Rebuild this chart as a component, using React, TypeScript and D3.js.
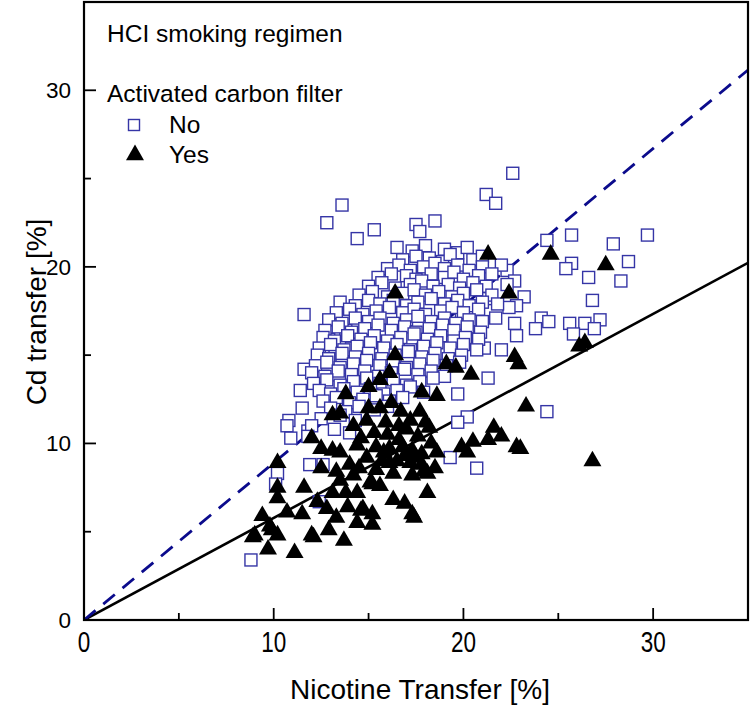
import React from 'react';
import * as d3 from 'd3';

// axis ticks
const majorTicks = [0, 10, 20, 30];
const minorTicks = [5, 15, 25];

// slopes of the two reference lines (through origin)
const slopeNoFilter = 0.89;
const slopeWithFilter = 0.578;

// Activated carbon filter: No  [nicotine %, Cd %]
const noFilter: [number, number][] = [
  [22.6, 25.3], [21.2, 24.1], [21.7, 23.6], [13.6, 23.5], [12.8, 22.5], [14.4, 21.6], [15.3, 22.1],
  [17.5, 22.4], [18.5, 22.6], [17.7, 22.0], [11.6, 17.3],
  [25.7, 21.8], [29.7, 21.8], [24.4, 21.5], [27.9, 21.3], [25.7, 20.2], [25.4, 19.9], [28.7, 20.3],
  [26.6, 19.4], [28.3, 19.2], [22.3, 19.8], [22.7, 19.2], [23.2, 18.3], [21.3, 18.2], [26.8, 18.1],
  [22.8, 17.8], [22.4, 17.7], [19.9, 17.3], [24.1, 17.1], [24.5, 16.9], [23.8, 16.5], [22.7, 16.8],
  [22.8, 16.1], [25.6, 16.8], [26.4, 16.8], [27.2, 17.0], [26.9, 16.5], [25.8, 16.2], [22.0, 15.3],
  [21.1, 15.4], [21.3, 13.7], [19.7, 12.8], [24.4, 11.8], [20.2, 11.5], [19.7, 11.2], [20.7, 8.6],
  [19.3, 9.2],
  [10.2, 8.3], [10.1, 7.7], [11.9, 8.8], [12.6, 8.8], [12.4, 6.7], [8.8, 3.4], [11.5, 12.0],
  [10.8, 11.3], [10.7, 11.0], [10.9, 10.3], [11.8, 10.7], [11.6, 14.2], [11.4, 13.0],
  [12.6, 15.1], [12.9, 15.9], [12.6, 13.8], [13.0, 13.2], [13.8, 16.4], [14.1, 15.4], [13.6, 14.8],
  [16.5, 21.1], [17.3, 20.9], [18.0, 21.2], [19.0, 21.0], [19.7, 20.8], [20.2, 21.1],
  [16.8, 20.4], [17.5, 20.6], [18.2, 20.5], [18.9, 20.3], [19.3, 20.7], [20.5, 20.4], [21.0, 20.6],
  [16.0, 19.9], [16.6, 20.1], [17.2, 19.8], [17.9, 20.0], [18.5, 20.2], [19.0, 19.9], [19.7, 20.1],
  [20.3, 19.8], [21.0, 20.0], [22.0, 20.1],
  [15.5, 19.4], [16.2, 19.6], [17.0, 19.5], [17.5, 19.3], [18.3, 19.6], [19.0, 19.4], [19.5, 19.7],
  [20.0, 19.3], [20.8, 19.5], [21.5, 19.6],
  [15.0, 18.9], [15.7, 19.1], [16.4, 18.8], [17.2, 19.0], [17.8, 19.2], [18.4, 18.9], [19.2, 19.0],
  [19.8, 18.8], [20.5, 19.1], [21.2, 18.9], [22.3, 19.0],
  [14.5, 18.4], [15.2, 18.6], [16.0, 18.3], [16.8, 18.5], [17.4, 18.7], [18.0, 18.4], [18.7, 18.6],
  [19.4, 18.3], [20.0, 18.5], [20.7, 18.7], [21.5, 18.4],
  [13.5, 18.0], [14.3, 17.8], [15.0, 18.1], [15.6, 17.9], [16.3, 18.1], [17.0, 17.8], [17.6, 18.0],
  [18.3, 18.2], [19.0, 17.9], [19.7, 18.1], [20.3, 17.8], [21.0, 18.0], [21.8, 17.9],
  [13.3, 17.4], [14.0, 17.6], [14.7, 17.3], [15.4, 17.5], [16.1, 17.7], [16.8, 17.4], [17.4, 17.6],
  [18.0, 17.3], [18.8, 17.5], [19.4, 17.7], [20.0, 17.4], [20.8, 17.6],
  [12.9, 17.0], [13.6, 16.8], [14.3, 17.1], [15.0, 16.9], [15.6, 17.1], [16.3, 16.8], [17.0, 17.0],
  [17.6, 17.2], [18.3, 16.9], [19.0, 17.1], [19.6, 16.8], [20.3, 17.0], [21.0, 16.9], [21.7, 17.1],
  [12.7, 16.4], [13.4, 16.6], [14.1, 16.3], [14.8, 16.5], [15.5, 16.7], [16.2, 16.4], [16.9, 16.6],
  [17.5, 16.3], [18.2, 16.5], [18.9, 16.7], [19.5, 16.4], [20.2, 16.6], [20.9, 16.3],
  [12.6, 16.0], [13.2, 15.8], [13.9, 16.1], [14.6, 15.9], [15.3, 16.1], [16.0, 15.8], [16.7, 16.0],
  [17.4, 16.2], [18.1, 15.9], [18.8, 16.1], [19.5, 15.8], [20.1, 16.0], [20.8, 15.9],
  [12.4, 15.4], [13.0, 15.6], [13.7, 15.3], [14.4, 15.5], [15.1, 15.7], [15.8, 15.4], [16.5, 15.6],
  [17.2, 15.3], [17.9, 15.5], [18.6, 15.7], [19.3, 15.4], [20.0, 15.6], [20.7, 15.3],
  [12.3, 15.0], [12.9, 14.8], [13.6, 15.1], [14.3, 14.9], [15.0, 15.1], [15.7, 14.8], [16.4, 15.0],
  [17.1, 15.2], [17.8, 14.9], [18.5, 15.1], [19.2, 14.8], [19.9, 15.0],
  [12.2, 14.4], [12.8, 14.6], [13.5, 14.3], [14.2, 14.5], [14.9, 14.7], [15.6, 14.4], [16.3, 14.6],
  [17.0, 14.3], [17.7, 14.5], [18.4, 14.7], [19.1, 14.4], [19.8, 14.6],
  [12.0, 14.0], [12.7, 13.8], [13.4, 14.1], [14.1, 13.9], [14.8, 14.1], [15.5, 13.8], [16.2, 14.0],
  [16.9, 14.2], [17.6, 13.9], [18.3, 14.1], [19.0, 13.8],
  [12.1, 13.4], [12.8, 13.6], [13.5, 13.3], [14.2, 13.5], [14.9, 13.7], [15.6, 13.4], [16.3, 13.6],
  [17.0, 13.3], [17.7, 13.5], [18.4, 13.7],
  [12.4, 13.0], [13.0, 12.8], [13.7, 13.1], [14.4, 12.9], [15.1, 13.1], [15.8, 12.8], [16.5, 13.0],
  [17.2, 13.2], [17.9, 12.9],
  [12.6, 12.4], [13.3, 12.6], [14.0, 12.3], [14.7, 12.5], [15.4, 12.7], [16.1, 12.4], [16.8, 12.6],
  [13.0, 12.0], [13.8, 11.8], [14.5, 12.1], [15.3, 11.9], [16.0, 12.1],
  [12.5, 11.4], [13.5, 11.6], [14.3, 11.3], [12.0, 11.0], [13.2, 10.8], [11.8, 10.4], [14.0, 10.6],
];

// Activated carbon filter: Yes  [nicotine %, Cd %]
const withFilter: [number, number][] = [
  [21.3, 20.7], [24.6, 20.7], [27.5, 20.1], [22.4, 18.5], [16.4, 18.5], [26.1, 15.5], [26.4, 15.7],
  [22.7, 14.9], [22.9, 14.5], [19.6, 14.3], [20.4, 13.9], [19.1, 14.5], [16.4, 15.0], [16.1, 14.0],
  [15.6, 13.6], [15.0, 13.2], [13.8, 12.8], [17.8, 12.9], [18.6, 12.7], [23.3, 12.1], [21.6, 10.9],
  [22.0, 10.4], [21.3, 10.2], [20.5, 10.1], [20.2, 9.5], [22.8, 9.8], [23.0, 9.7], [26.8, 9.0],
  [19.9, 9.8],
  [16.2, 12.3], [15.0, 12.0], [15.6, 12.0], [16.7, 11.8], [17.7, 11.8], [13.1, 11.6], [13.5, 11.7],
  [14.9, 11.3], [15.9, 11.2], [17.2, 11.3], [18.2, 10.9], [14.2, 11.0], [12.0, 10.3], [12.5, 9.7],
  [13.1, 9.6], [13.5, 9.5], [14.4, 9.9], [15.4, 9.8], [16.1, 9.7], [16.8, 9.8], [17.3, 9.6],
  [17.8, 9.4], [14.9, 9.2], [15.7, 9.0], [16.5, 9.0], [17.2, 8.9], [17.8, 8.8], [18.5, 8.6],
  [14.5, 8.6], [15.4, 8.5], [16.3, 8.3], [17.3, 8.2], [18.1, 8.3], [17.9, 8.4], [10.2, 8.9],
  [14.2, 8.2], [13.5, 7.9], [15.1, 7.8], [15.6, 7.6], [15.2, 7.7], [13.1, 7.2], [13.8, 7.2],
  [14.4, 7.2], [11.6, 7.5], [10.2, 7.5], [10.2, 6.9], [12.5, 8.6], [18.1, 7.2], [16.3, 6.8],
  [16.9, 6.6], [17.3, 6.0], [17.4, 5.8], [15.2, 6.0], [14.7, 6.3], [13.9, 6.4], [12.8, 6.3],
  [13.3, 5.8], [12.9, 5.1], [13.7, 4.5], [15.2, 5.4], [14.6, 6.2], [14.4, 5.5], [12.3, 6.7],
  [11.5, 6.0], [10.7, 6.1], [9.4, 5.9], [9.9, 5.1], [10.2, 4.8], [9.0, 4.8], [8.9, 4.7],
  [9.8, 5.3], [12.0, 4.8], [12.1, 4.7], [9.7, 4.0], [11.1, 3.8],
  [16.0, 10.5], [16.6, 10.2], [17.0, 10.8], [17.6, 10.4], [15.3, 10.6], [14.6, 10.3], [18.3, 10.0],
  [17.5, 9.2], [16.9, 9.3], [16.1, 8.9], [15.8, 9.5], [14.0, 8.8], [13.3, 8.4], [18.6, 9.5],
  [18.0, 11.2], [16.6, 11.0],
];

const squareColor = '#3535a6';
const dashColor = '#0b0b8c';
const font = 'Arial, "Liberation Sans", sans-serif';

export default function App() {
  const width = 750;
  const height = 707;

  const x = d3.scaleLinear().domain([0, 35]).range([84, 748]);
  const y = d3.scaleLinear().domain([0, 35]).range([620, 2]);

  const triPath = d3.symbol(d3.symbolTriangle, 140)() as string;
  const sq = 12;

  const line = d3.line<[number, number]>().x(d => x(d[0])).y(d => y(d[1]));
  const dashed = line([[0, 0], [35, 35 * slopeNoFilter]]) as string;
  const solid = line([[0, 0], [35, 35 * slopeWithFilter]]) as string;

  return (
    <div style={{ position: 'absolute', left: 0, top: 0 }}>
      <svg width={width} height={height} style={{ display: 'block', background: '#fff' }}>
        <defs>
          <clipPath id="plot">
            <rect x={x(0)} y={y(35)} width={x(35) - x(0)} height={y(0) - y(35)} />
          </clipPath>
        </defs>

        <g clipPath="url(#plot)">
          <path d={solid} stroke="#000" strokeWidth={2.6} fill="none" />
          <path d={dashed} stroke={dashColor} strokeWidth={2.8} strokeDasharray="15 10" fill="none" />
          {noFilter.map((d, i) => (
            <rect key={'s' + i} x={x(d[0]) - sq / 2} y={y(d[1]) - sq / 2} width={sq} height={sq}
              fill="#fff" stroke={squareColor} strokeWidth={1.4} />
          ))}
          {withFilter.map((d, i) => (
            <path key={'t' + i} d={triPath} transform={`translate(${x(d[0])},${y(d[1])})`} fill="#000" />
          ))}
        </g>

        {/* frame */}
        <rect x={x(0)} y={y(35)} width={x(35) - x(0)} height={y(0) - y(35)} fill="none" stroke="#000" strokeWidth={2.2} />

        {/* x ticks */}
        {majorTicks.map(t => (
          <line key={'xm' + t} x1={x(t)} x2={x(t)} y1={y(0)} y2={y(0) - 12} stroke="#000" strokeWidth={1.8} />
        ))}
        {minorTicks.map(t => (
          <line key={'xn' + t} x1={x(t)} x2={x(t)} y1={y(0)} y2={y(0) - 7} stroke="#000" strokeWidth={1.8} />
        ))}
        {majorTicks.map(t => (
          <text key={'xl' + t} transform={`translate(${x(t)},652) scale(1,1.35)`} textAnchor="middle"
            fontFamily={font} fontSize={22.5} fill="#000">{t}</text>
        ))}

        {/* y ticks */}
        {majorTicks.map(t => (
          <line key={'ym' + t} x1={x(0)} x2={x(0) + 12} y1={y(t)} y2={y(t)} stroke="#000" strokeWidth={1.8} />
        ))}
        {minorTicks.map(t => (
          <line key={'yn' + t} x1={x(0)} x2={x(0) + 7} y1={y(t)} y2={y(t)} stroke="#000" strokeWidth={1.8} />
        ))}
        {majorTicks.map(t => (
          <text key={'yl' + t} x={71} y={y(t) + 8} textAnchor="end"
            fontFamily={font} fontSize={22.5} fill="#000">{t}</text>
        ))}

        {/* axis titles */}
        <text x={420} y={699} textAnchor="middle" fontFamily={font} fontSize={28} fill="#000">
          Nicotine Transfer [%]
        </text>
        <text transform={`translate(46,312) rotate(-90)`} textAnchor="middle" fontFamily={font} fontSize={28} fill="#000">
          Cd transfer [%]
        </text>

        {/* annotation and legend */}
        <text x={107} y={42} fontFamily={font} fontSize={24.5} fill="#000">HCI smoking regimen</text>
        <text x={107} y={102} fontFamily={font} fontSize={24.5} fill="#000">Activated carbon filter</text>
        <rect x={134 - 11 / 2} y={125 - 11 / 2} width={11} height={11} fill="#fff" stroke={squareColor} strokeWidth={1.4} />
        <text x={169} y={133} fontFamily={font} fontSize={24.5} fill="#000">No</text>
        <path d={triPath} transform="translate(135,155)" fill="#000" />
        <text x={169} y={163} fontFamily={font} fontSize={24.5} fill="#000">Yes</text>
      </svg>
    </div>
  );
}
